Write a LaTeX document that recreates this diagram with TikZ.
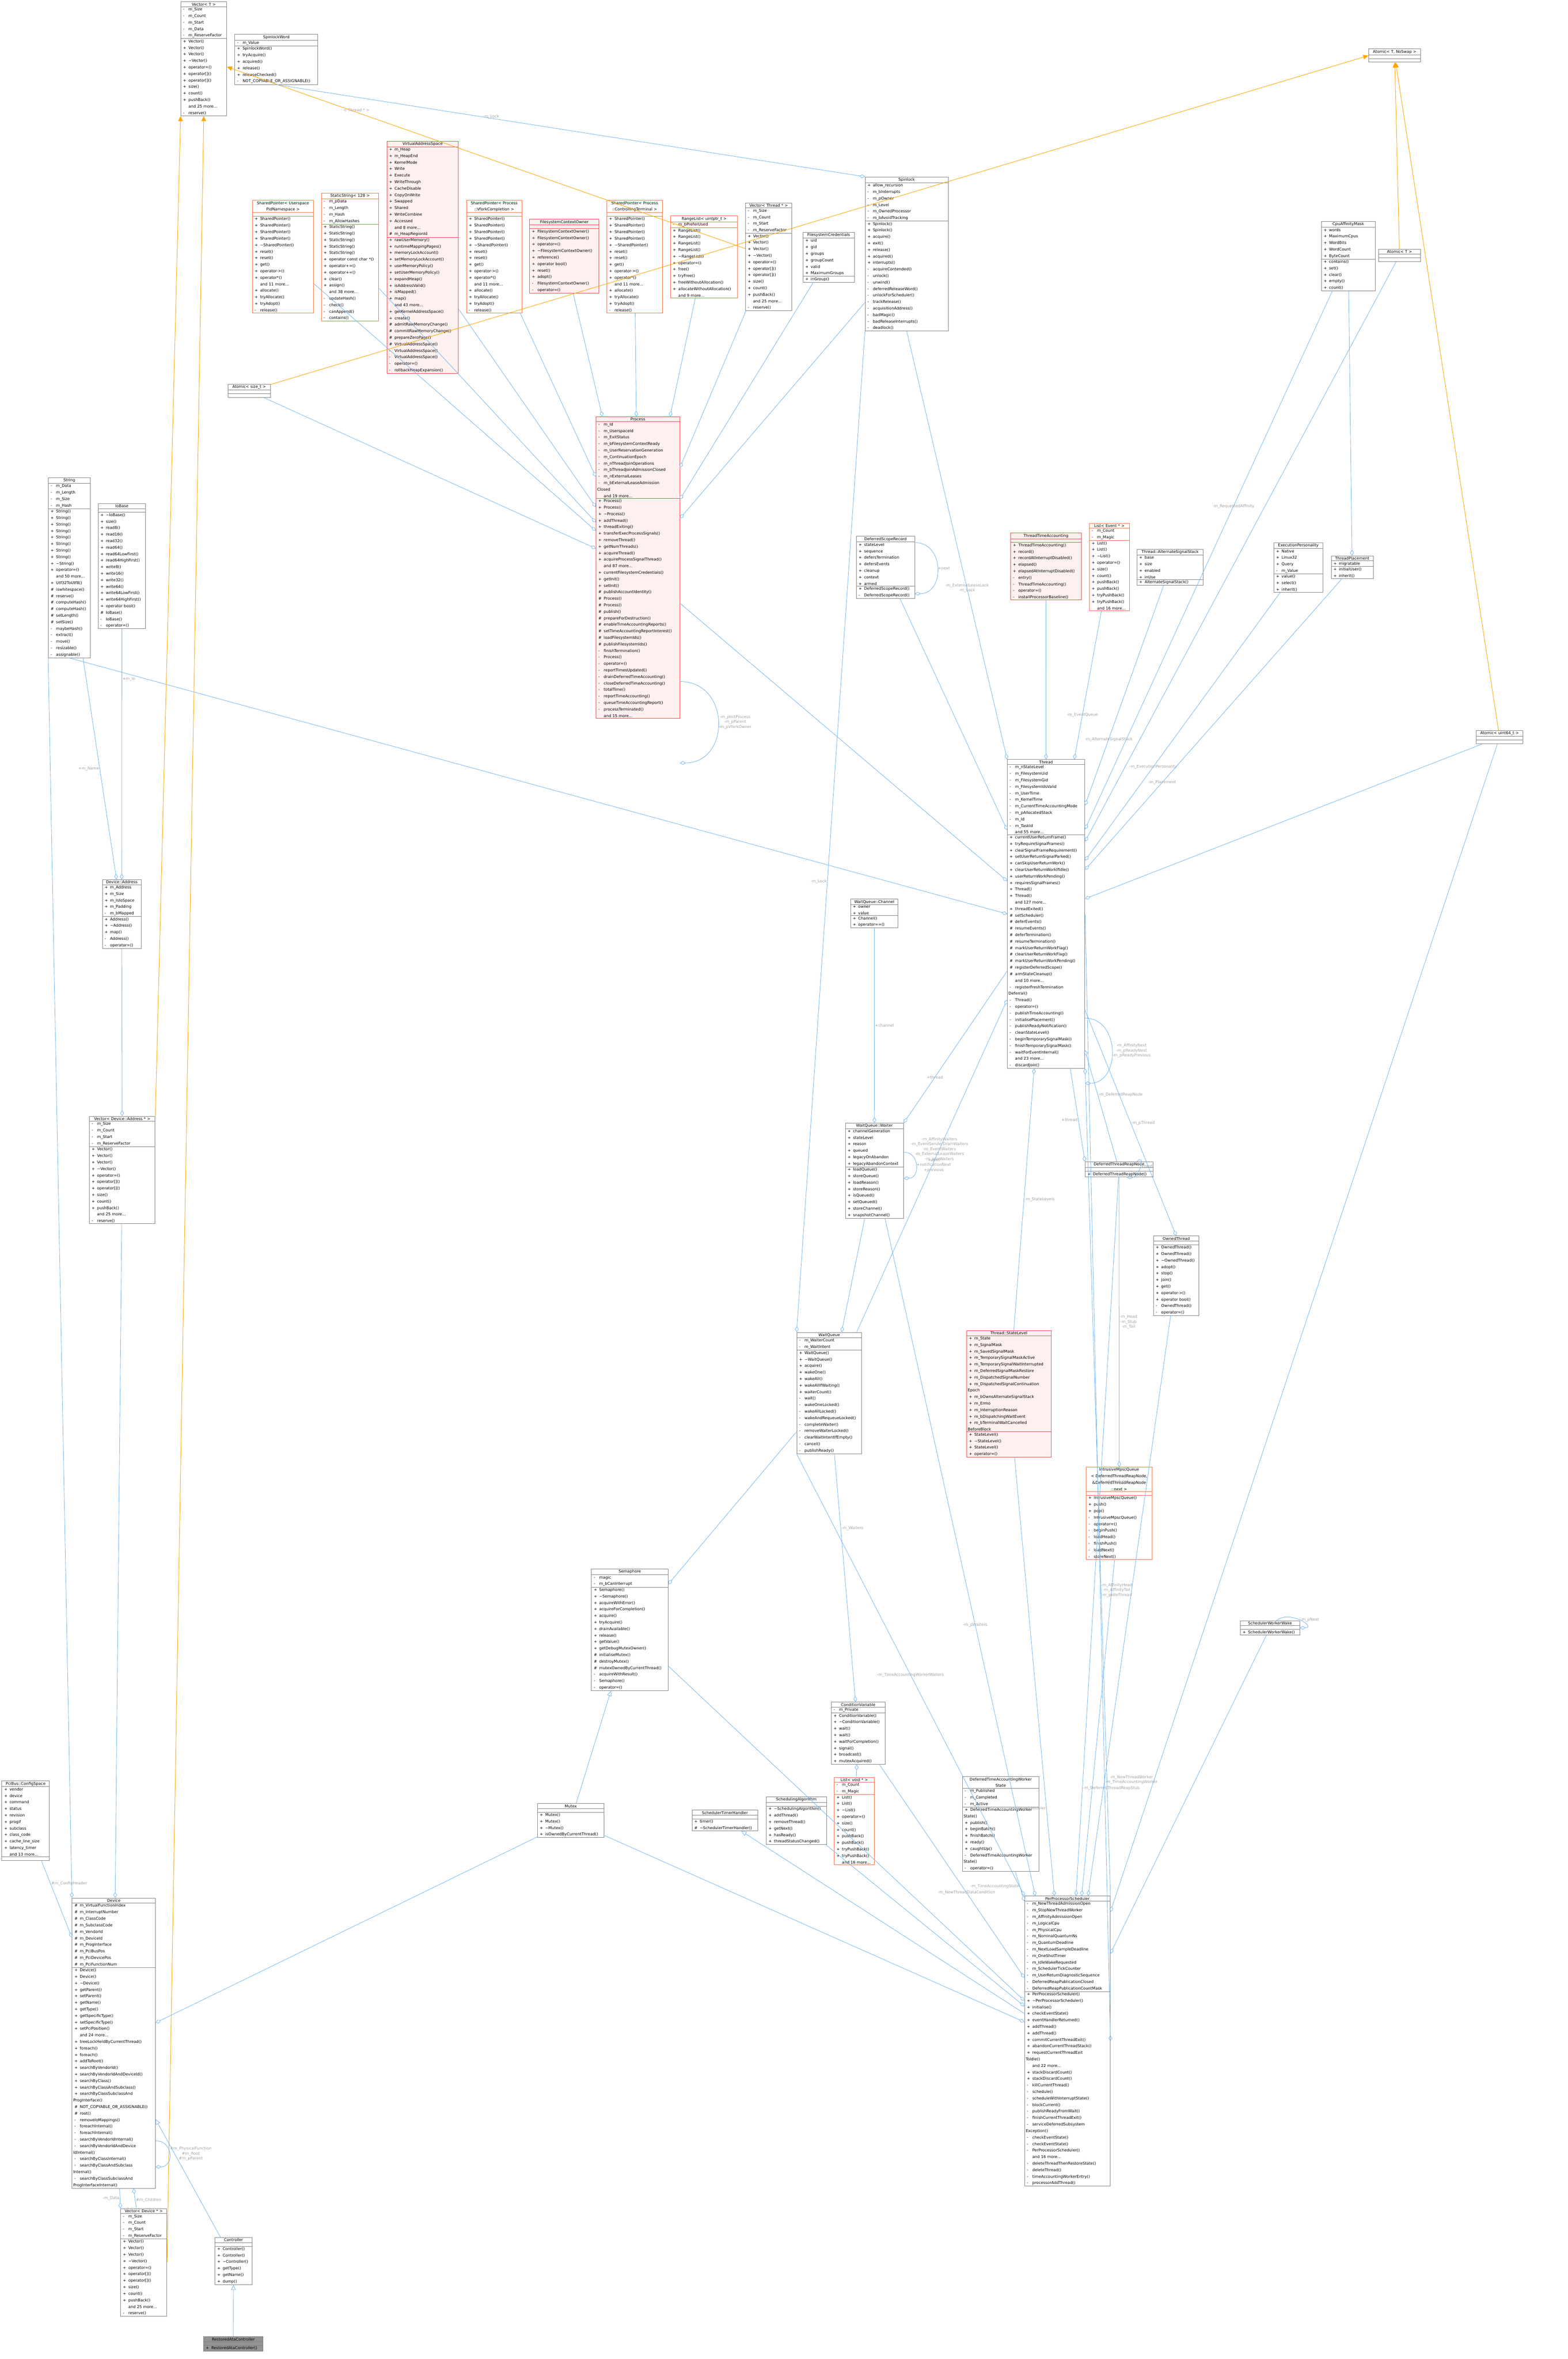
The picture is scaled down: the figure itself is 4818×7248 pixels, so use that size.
\documentclass[tikz,border=0pt]{standalone}
\usepackage{fontspec}
\setmainfont{DejaVu Sans}
\usetikzlibrary{shapes.multipart,arrows.meta}
\definecolor{lblue}{HTML}{6EB4F0}
\definecolor{lorange}{HTML}{FFA500}
\definecolor{lgray}{HTML}{A0A0A0}
\definecolor{bgray}{HTML}{808080}
\definecolor{rborder}{HTML}{FF4040}
\definecolor{rfill}{HTML}{FFF0F0}
\definecolor{oborder}{HTML}{FF6A3D}
\catcode`\_=12
\def\M#1#2{\hangindent1.7em\hangafter1\noindent\makebox[1.7em][l]{\hspace{0.3em}#1}#2\par}
\def\D{\textasciitilde}
\def\E{\rule{0pt}{1.5pt}}
\newcommand\C[8]{\pgfmathsetlengthmacro\tw{#4*0.284528pt-2pt}%
\node[#5, text width=\tw] (#1) at (#2,#3) {\centering #6\par\nodepart{two}#7\nodepart{three}#8};}
\def\VecM{\M+{Vector()}\M+{Vector()}\M+{Vector()}\M+{\D Vector()}\M+{operator=()}\M+{operator[]()}\M+{operator[]()}\M+{size()}\M+{count()}\M+{pushBack()}\M{}{and 25 more...}\M-{reserve()}}
\def\VecA{\M-{m_Size}\M-{m_Count}\M-{m_Start}\M-{m_ReserveFactor}}
\def\SPM{\M+{SharedPointer()}\M+{SharedPointer()}\M+{SharedPointer()}\M+{SharedPointer()}\M+{\D SharedPointer()}\M+{reset()}\M+{reset()}\M+{get()}\M+{operator->()}\M+{operator*()}\M{}{and 11 more...}\M+{allocate()}\M+{tryAllocate()}\M+{tryAdopt()}\M-{release()}}
\def\LA{\M-{m_Count}\M-{m_Magic}}
\def\LM{\M+{List()}\M+{List()}\M+{\D List()}\M+{operator=()}\M+{size()}\M+{count()}\M+{pushBack()}\M+{pushBack()}\M+{tryPushBack()}\M+{tryPushBack()}\M{}{and 16 more...}}
\tikzset{
 base/.style={rectangle split, rectangle split parts=3, rectangle split draw splits=true,
   rectangle split ignore empty parts=false, anchor=north west, align=left,
   inner xsep=1pt, inner ysep=0.7pt, line width=0.35pt,
   font=\fontsize{3.4}{5.69}\selectfont},
 cls/.style={base, draw=bgray, fill=white},
 red/.style={base, draw=rborder, fill=rfill},
 tpl/.style={base, draw=oborder, fill=white},
 dark/.style={base, draw=bgray, fill=bgray!85},
 comp/.style={draw=lblue, line width=0.35pt, -{Diamond[open,length=5pt,width=3.2pt]}},
 inh/.style={draw=lblue, line width=0.35pt, -{Triangle[open,length=4.5pt,width=4pt]}},
 tmpl/.style={draw=lorange, line width=0.4pt, -{Triangle[length=4.5pt,width=4pt,fill=lorange]}},
 lbl/.style={font=\fontsize{3.4}{4.3}\selectfont, text=lgray, align=center, inner sep=0.5pt}
}
\begin{document}
\begin{tikzpicture}[x=0.01cm,y=-0.01cm]
\useasboundingbox[fill=white] (0,0) rectangle (4818,7248);

\C{vect}{555}{5}{141}{cls}{Vector< T >}{\M-{m_Size}\M-{m_Count}\M-{m_Start}\M-{m_Data}\M-{m_ReserveFactor}}{\VecM}
\C{slw}{721}{105}{255}{cls}{SpinlockWord}{\M-{m_Value}}{\M+{SpinlockWord()}\M+{tryAcquire()}\M+{acquired()}\M+{release()}\M+{releaseChecked()}\M-{NOT_COPYABLE_OR_ASSIGNABLE()}}
\C{spupn}{775}{615}{188}{tpl}{SharedPointer< Userspace\\PidNamespace >}{\E}{\SPM}
\C{sstr}{987}{593}{176}{tpl}{StaticString< 128 >}{\M-{m_pData}\M-{m_Length}\M-{m_Hash}\M-{m_AllowHashes}}{\M+{StaticString()}\M+{StaticString()}\M+{StaticString()}\M+{StaticString()}\M+{StaticString()}\M+{operator const char *()}\M+{operator+=()}\M+{operator+=()}\M+{clear()}\M+{assign()}\M{}{and 38 more...}\M-{updateHash()}\M-{check()}\M-{canAppend()}\M-{contains()}}
\C{vas}{1188}{433}{220}{red}{VirtualAddressSpace}{\M+{m_Heap}\M+{m_HeapEnd}\M+{KernelMode}\M+{Write}\M+{Execute}\M+{WriteThrough}\M+{CacheDisable}\M+{CopyOnWrite}\M+{Swapped}\M+{Shared}\M+{WriteCombine}\M+{Accessed}\M{}{and 8 more...}\M\#{m_HeapRegionId}}{\M+{rawUserMemory()}\M+{runtimeMappingPages()}\M+{memoryLockAccount()}\M+{setMemoryLockAccount()}\M+{userMemoryPolicy()}\M+{setUserMemoryPolicy()}\M+{expandHeap()}\M+{isAddressValid()}\M+{isMapped()}\M+{map()}\M{}{and 43 more...}\M+{getKernelAddressSpace()}\M+{create()}\M\#{admitRawMemoryChange()}\M\#{commitRawMemoryChange()}\M\#{prepareZeroPage()}\M\#{VirtualAddressSpace()}\M-{VirtualAddressSpace()}\M-{VirtualAddressSpace()}\M-{operator=()}\M-{rollbackHeapExpansion()}}
\C{spvf}{1433}{615}{170}{tpl}{SharedPointer< Process\\::VforkCompletion >}{\E}{\SPM}
\C{fco}{1627}{673}{213}{red}{FilesystemContextOwner}{\E}{\M+{FilesystemContextOwner()}\M+{FilesystemContextOwner()}\M+{operator=()}\M+{\D FilesystemContextOwner()}\M+{reference()}\M+{operator bool()}\M+{reset()}\M+{adopt()}\M-{FilesystemContextOwner()}\M-{operator=()}}
\C{spct}{1864}{615}{171}{tpl}{SharedPointer< Process\\::ControllingTerminal >}{\E}{\SPM}
\C{rl}{2060}{663}{206}{tpl}{RangeList< uintptr_t >}{\M-{m_bPreferUsed}}{\M+{RangeList()}\M+{RangeList()}\M+{RangeList()}\M+{RangeList()}\M+{\D RangeList()}\M+{operator=()}\M+{free()}\M+{tryFree()}\M+{freeWithoutAllocation()}\M+{allocateWithoutAllocation()}\M{}{and 9 more...}}
\C{vthr}{2290}{623}{143}{cls}{Vector< Thread * >}{\VecA}{\VecM}
\C{fcred}{2467}{713}{158}{cls}{FilesystemCredentials}{\M+{uid}\M+{gid}\M+{groups}\M+{groupCount}\M+{valid}\M+{MaximumGroups}}{\M+{inGroup()}}
\C{spin}{2658}{543}{255}{cls}{Spinlock}{\M+{allow_recursion}\M-{m_bInterrupts}\M-{m_pOwner}\M-{m_Level}\M-{m_OwnedProcessor}\M-{m_bAvoidTracking}}{\M+{Spinlock()}\M+{Spinlock()}\M+{acquire()}\M+{exit()}\M+{release()}\M+{acquired()}\M+{interrupts()}\M-{acquireContended()}\M-{unlock()}\M-{unwind()}\M-{deferredReleaseWord()}\M-{unlockForScheduler()}\M-{trackRelease()}\M-{acquisitionAddress()}\M-{badMagic()}\M-{badReleaseInterrupts()}\M-{deadlock()}}
\C{atns}{4205}{150}{160}{cls}{Atomic< T, NoSwap >}{\E}{\E}
\C{att}{4235}{765}{130}{cls}{Atomic< T >}{\E}{\E}
\C{cpu}{4060}{680}{165}{cls}{CpuAffinityMask}{\M+{words}\M+{MaximumCpus}\M+{WordBits}\M+{WordCount}\M+{ByteCount}}{\M+{contains()}\M+{set()}\M+{clear()}\M+{empty()}\M+{count()}}
\C{atsz}{700}{1180}{130}{cls}{Atomic< size_t >}{\E}{\E}

\C{proc}{1831}{1280}{257}{red}{Process}{\M-{m_Id}\M-{m_UserspaceId}\M-{m_ExitStatus}\M-{m_bFilesystemContextReady}\M-{m_UserReservationGeneration}\M-{m_ContinuationEpoch}\M-{m_nThreadJoinOperations}\M-{m_bThreadJoinAdmissionClosed}\M-{m_nExternalLeases}\M-{m_bExternalLeaseAdmission\\Closed}\M{}{and 19 more...}}{\M+{Process()}\M+{Process()}\M+{\D Process()}\M+{addThread()}\M+{threadExiting()}\M+{transferExecProcessSignals()}\M+{removeThread()}\M+{getNumThreads()}\M+{acquireThread()}\M+{acquireProcessSignalThread()}\M{}{and 87 more...}\M+{currentFilesystemCredentials()}\M+{getInit()}\M+{setInit()}\M\#{publishAccountIdentity()}\M\#{Process()}\M\#{Process()}\M\#{publish()}\M\#{prepareForDestruction()}\M\#{enableTimeAccountingReports()}\M\#{setTimeAccountingReportInterest()}\M\#{loadFilesystemIds()}\M\#{publishFilesystemIds()}\M-{finishTermination()}\M-{Process()}\M-{operator=()}\M-{reportTimesUpdated()}\M-{drainDeferredTimeAccounting()}\M-{closeDeferredTimeAccounting()}\M-{totalTime()}\M-{reportTimeAccounting()}\M-{queueTimeAccountingReport()}\M-{processTerminated()}\M{}{and 15 more...}}

\C{str}{148}{1467}{129}{cls}{String}{\M-{m_Data}\M-{m_Length}\M-{m_Size}\M-{m_Hash}}{\M+{String()}\M+{String()}\M+{String()}\M+{String()}\M+{String()}\M+{String()}\M+{String()}\M+{String()}\M+{\D String()}\M+{operator=()}\M{}{and 50 more...}\M+{Utf32ToUtf8()}\M\#{iswhitespace()}\M\#{reserve()}\M\#{computeHash()}\M\#{computeHash()}\M\#{setLength()}\M\#{setSize()}\M-{maybeHash()}\M-{extract()}\M-{move()}\M-{resizable()}\M-{assignable()}}
\C{iob}{301}{1547}{146}{cls}{IoBase}{\E}{\M+{\D IoBase()}\M+{size()}\M+{read8()}\M+{read16()}\M+{read32()}\M+{read64()}\M+{read64LowFirst()}\M+{read64HighFirst()}\M+{write8()}\M+{write16()}\M+{write32()}\M+{write64()}\M+{write64LowFirst()}\M+{write64HighFirst()}\M+{operator bool()}\M\#{IoBase()}\M-{IoBase()}\M-{operator=()}}
\C{daddr}{314}{2702}{119}{cls}{Device::Address}{\M+{m_Address}\M+{m_Size}\M+{m_IsIoSpace}\M+{m_Padding}\M-{m_bMapped}}{\M+{Address()}\M+{\D Address()}\M+{map()}\M-{Address()}\M-{operator=()}}
\C{vda}{274}{3429}{202}{cls}{Vector< Device::Address * >}{\VecA}{\VecM}

\C{dsr}{2631}{1647}{179}{cls}{DeferredScopeRecord}{\M+{stateLevel}\M+{sequence}\M+{defersTermination}\M+{defersEvents}\M+{cleanup}\M+{context}\M+{armed}}{\M+{DeferredScopeRecord()}\M-{DeferredScopeRecord()}}
\C{tta}{3105}{1637}{217}{red}{ThreadTimeAccounting}{\E}{\M+{ThreadTimeAccounting()}\M+{record()}\M+{recordAtInterruptDisabled()}\M+{elapsed()}\M+{elapsedAtInterruptDisabled()}\M-{entry()}\M-{ThreadTimeAccounting()}\M-{operator=()}\M-{installProcessorBaseline()}}
\C{lev}{3347}{1607}{123}{tpl}{List< Event * >}{\LA}{\LM}
\C{ass}{3493}{1687}{204}{cls}{Thread::AlternateSignalStack}{\M+{base}\M+{size}\M+{enabled}\M+{inUse}}{\M+{AlternateSignalStack()}}
\C{exp}{3914}{1667}{150}{cls}{ExecutionPersonality}{\M+{Native}\M+{Linux32}\M+{Query}\M-{m_Value}}{\M+{value()}\M+{select()}\M+{inherit()}}
\C{tpl}{4090}{1707}{129}{cls}{ThreadPlacement}{\M+{migratable}}{\M+{initialUser()}\M+{inherit()}}
\C{at64}{4536}{2244}{143}{cls}{Atomic< uint64_t >}{\E}{\E}

\C{thr}{3095}{2333}{238}{cls}{Thread}{\M-{m_nStateLevel}\M-{m_FilesystemUid}\M-{m_FilesystemGid}\M-{m_FilesystemIdsValid}\M-{m_UserTime}\M-{m_KernelTime}\M-{m_CurrentTimeAccountingMode}\M-{m_pAllocatedStack}\M-{m_Id}\M-{m_TaskId}\M{}{and 55 more...}}{\M+{currentUserReturnFrame()}\M+{tryRequireSignalFrames()}\M+{clearSignalFrameRequirement()}\M+{setUserReturnSignalParked()}\M+{canSkipUserReturnWork()}\M+{clearUserReturnWorkIfIdle()}\M+{userReturnWorkPending()}\M+{requiresSignalFrames()}\M+{Thread()}\M+{Thread()}\M{}{and 127 more...}\M+{threadExited()}\M\#{setScheduler()}\M\#{deferEvents()}\M\#{resumeEvents()}\M\#{deferTermination()}\M\#{resumeTermination()}\M\#{markUserReturnWorkFlag()}\M\#{clearUserReturnWorkFlag()}\M\#{markUserReturnWorkPending()}\M\#{registerDeferredScope()}\M\#{armStateCleanup()}\M{}{and 10 more...}\M-{registerFreshTermination\\Deferral()}\M-{Thread()}\M-{operator=()}\M-{publishTimeAccounting()}\M-{initialisePlacement()}\M-{publishReadyNotification()}\M-{cleanStateLevel()}\M-{beginTemporarySignalMask()}\M-{finishTemporarySignalMask()}\M-{waitForEventInternal()}\M{}{and 23 more...}\M-{discardJoin()}}
\C{chan}{2613}{2762}{146}{cls}{WaitQueue::Channel}{\M+{owner}\M+{value}}{\M+{Channel()}\M+{operator==()}}
\C{wtr}{2597}{3450}{179}{cls}{WaitQueue::Waiter}{\M+{channelGeneration}\M+{stateLevel}\M+{reason}\M+{queued}\M+{legacyOnAbandon}\M+{legacyAbandonContext}}{\M+{loadQueue()}\M+{storeQueue()}\M+{loadReason()}\M+{storeReason()}\M+{isQueued()}\M+{setQueued()}\M+{storeChannel()}\M+{snapshotChannel()}}
\C{dtrn}{3334}{3569}{208}{cls}{DeferredThreadReapNode}{\E}{\M+{DeferredThreadReapNode()}}
\C{own}{3544}{3797}{140}{cls}{OwnedThread}{\E}{\M+{OwnedThread()}\M+{OwnedThread()}\M+{\D OwnedThread()}\M+{adopt()}\M+{stop()}\M+{join()}\M+{get()}\M+{operator->()}\M+{operator bool()}\M-{OwnedThread()}\M-{operator=()}}
\C{wq}{2448}{4093}{199}{cls}{WaitQueue}{\M-{m_WaiterCount}\M-{m_WaitIntent}}{\M+{WaitQueue()}\M+{\D WaitQueue()}\M+{acquire()}\M+{wakeOne()}\M+{wakeAll()}\M+{wakeAllIfWaiting()}\M+{waiterCount()}\M-{wait()}\M-{wakeOneLocked()}\M-{wakeAllLocked()}\M-{wakeAndRequeueLocked()}\M-{completeWaiter()}\M-{removeWaiterLocked()}\M-{clearWaitIntentIfEmpty()}\M-{cancel()}\M-{publishReady()}}
\C{stl}{2970}{4088}{259}{red}{Thread::StateLevel}{\M+{m_State}\M+{m_SignalMask}\M+{m_SavedSignalMask}\M+{m_TemporarySignalMaskActive}\M+{m_TemporarySignalWaitInterrupted}\M+{m_DeferredSignalMaskRestore}\M+{m_DispatchedSignalNumber}\M+{m_DispatchedSignalContinuation\\Epoch}\M+{m_bOwnsAlternateSignalStack}\M+{m_Errno}\M+{m_InterruptionReason}\M+{m_bDispatchingWaitEvent}\M+{m_bTerminalWaitCancelled\\BeforeBlock}}{\M+{StateLevel()}\M+{\D StateLevel()}\M+{StateLevel()}\M+{operator=()}}
\C{imq}{3337}{4507}{203}{tpl}{IntrusiveMpscQueue\\< DeferredThreadReapNode,\\ \&DeferredThreadReapNode\\::next >}{\E}{\M+{IntrusiveMpscQueue()}\M+{push()}\M+{pop()}\M-{IntrusiveMpscQueue()}\M-{operator=()}\M-{beginPush()}\M-{loadHead()}\M-{finishPush()}\M-{loadNext()}\M-{storeNext()}}

\C{sem}{1817}{4820}{235}{cls}{Semaphore}{\M-{magic}\M-{m_bCanInterrupt}}{\M+{Semaphore()}\M+{\D Semaphore()}\M+{acquireWithError()}\M+{acquireForCompletion()}\M+{acquire()}\M+{tryAcquire()}\M+{drainAvailable()}\M+{release()}\M+{getValue()}\M+{getDebugMutexOwner()}\M\#{initialiseMutex()}\M\#{destroyMutex()}\M\#{mutexOwnedByCurrentThread()}\M-{acquireWithResult()}\M-{Semaphore()}\M-{operator=()}}
\C{sww}{3811}{4979}{182}{cls}{SchedulerWorkerWake}{\E}{\M+{SchedulerWorkerWake()}}
\C{cv}{2554}{5229}{165}{cls}{ConditionVariable}{\M-{m_Private}}{\M+{ConditionVariable()}\M+{\D ConditionVariable()}\M+{wait()}\M+{wait()}\M+{waitForCompletion()}\M+{signal()}\M+{broadcast()}\M+{mutexAcquired()}}
\C{mtx}{1651}{5541}{205}{cls}{Mutex}{\E}{\M+{Mutex()}\M+{Mutex()}\M+{\D Mutex()}\M+{isOwnedByCurrentThread()}}
\C{sth}{2126}{5561}{202}{cls}{SchedulerTimerHandler}{\E}{\M+{timer()}\M\#{\D SchedulerTimerHandler()}}
\C{salg}{2354}{5520}{185}{cls}{SchedulingAlgorithm}{\E}{\M+{\D SchedulingAlgorithm()}\M+{addThread()}\M+{removeThread()}\M+{getNext()}\M+{hasReady()}\M+{threadStatusChanged()}}
\C{lvoid}{2563}{5460}{123}{tpl}{List< void * >}{\LA}{\LM}
\C{dtaws}{2957}{5458}{235}{cls}{DeferredTimeAccountingWorker\\State}{\M-{m_Published}\M-{m_Completed}\M-{m_Active}}{\M+{DeferredTimeAccountingWorker\\State()}\M+{publish()}\M+{beginBatch()}\M+{finishBatch()}\M+{ready()}\M+{caughtUp()}\M-{DeferredTimeAccountingWorker\\State()}\M-{operator=()}}
\C{pps}{3148}{5825}{263}{cls}{PerProcessorScheduler}{\M-{m_NewThreadAdmissionOpen}\M-{m_StopNewThreadWorker}\M-{m_AffinityAdmissionOpen}\M-{m_LogicalCpu}\M-{m_PhysicalCpu}\M-{m_NominalQuantumNs}\M-{m_QuantumDeadline}\M-{m_NextLoadSampleDeadline}\M-{m_OneShotTimer}\M-{m_IdleWakeRequested}\M-{m_SchedulerTickCounter}\M-{m_UserReturnDiagnosticSequence}\M-{DeferredReapPublicationClosed}\M-{DeferredReapPublicationCountMask}}{\M+{PerProcessorScheduler()}\M+{\D PerProcessorScheduler()}\M+{initialise()}\M+{checkEventState()}\M+{eventHandlerReturned()}\M+{addThread()}\M+{addThread()}\M+{commitCurrentThreadExit()}\M+{abandonCurrentThreadStack()}\M+{requestCurrentThreadExit\\ToIdle()}\M{}{and 22 more...}\M+{stackDiscardCount()}\M+{stackDiscardCount()}\M-{killCurrentThread()}\M-{schedule()}\M-{scheduleWithInterruptState()}\M-{blockCurrent()}\M-{publishReadyFromWait()}\M-{finishCurrentThreadExit()}\M-{serviceDeferredSubsystem\\Exception()}\M-{checkEventState()}\M-{checkEventState()}\M-{PerProcessorScheduler()}\M{}{and 16 more...}\M-{deleteThreadThenRestoreState()}\M-{deleteThread()}\M-{timeAccountingWorkerEntry()}\M-{processorAddThread()}}

\C{pcs}{5}{5471}{146}{cls}{PciBus::ConfigSpace}{\M+{vendor}\M+{device}\M+{command}\M+{status}\M+{revision}\M+{progif}\M+{subclass}\M+{class_code}\M+{cache_line_size}\M+{latency_timer}\M{}{and 13 more...}}{\E}
\C{dev}{221}{5831}{256}{cls}{Device}{\M\#{m_VirtualFunctionIndex}\M\#{m_InterruptNumber}\M\#{m_ClassCode}\M\#{m_SubclassCode}\M\#{m_VendorId}\M\#{m_DeviceId}\M\#{m_ProgInterface}\M\#{m_PciBusPos}\M\#{m_PciDevicePos}\M\#{m_PciFunctionNum}}{\M+{Device()}\M+{Device()}\M+{\D Device()}\M+{getParent()}\M+{setParent()}\M+{getName()}\M+{getType()}\M+{getSpecificType()}\M+{setSpecificType()}\M+{setPciPosition()}\M{}{and 24 more...}\M+{treeLockHeldByCurrentThread()}\M+{foreach()}\M+{foreach()}\M+{addToRoot()}\M+{searchByVendorId()}\M+{searchByVendorIdAndDeviceId()}\M+{searchByClass()}\M+{searchByClassAndSubclass()}\M+{searchByClassSubclassAnd\\ProgInterface()}\M\#{NOT_COPYABLE_OR_ASSIGNABLE()}\M\#{root()}\M-{removeIoMappings()}\M-{foreachInternal()}\M-{foreachInternal()}\M-{searchByVendorIdInternal()}\M-{searchByVendorIdAndDevice\\IdInternal()}\M-{searchByClassInternal()}\M-{searchByClassAndSubclass\\Internal()}\M-{searchByClassSubclassAnd\\ProgInterfaceInternal()}}
\C{vdev}{370}{6785}{142}{cls}{Vector< Device * >}{\VecA}{\VecM}
\C{ctl}{660}{6874}{114}{cls}{Controller}{\E}{\M+{Controller()}\M+{Controller()}\M+{\D Controller()}\M+{getType()}\M+{getName()}\M+{dump()}}
\C{rac}{625}{7179}{183}{dark}{RestoredAtaController}{\E}{\M+{RestoredAtaController()}}

% template instantiations
\draw[tmpl] (vthr) -- node[lbl,pos=0.75,above]{< Thread * >} (vect);
\draw[tmpl] (vda.north east) -- (vect.south west);
\draw[tmpl] (vdev.east) -- (vect.south);
\draw[tmpl] (att) -- (atns);
\draw[tmpl] (at64) -- (atns);
\draw[tmpl] (atsz) -- (atns.west);

% compositions (part -> container)
\draw[comp] (slw.south) -- node[lbl,pos=0.35,right]{-m_Lock} (spin.north west);
\draw[comp] (spupn) -- (proc);
\draw[comp] (sstr) -- (proc);
\draw[comp] (vas) -- (proc);
\draw[comp] (spvf) -- (proc);
\draw[comp] (fco) -- (proc);
\draw[comp] (spct) -- (proc);
\draw[comp] (rl) -- (proc);
\draw[comp] (vthr) -- (proc);
\draw[comp] (fcred) -- (proc);
\draw[comp] (spin) -- (proc);
\draw[comp] (atsz) -- (proc);
\draw[comp] ([yshift=-3.5cm]proc.east) to[out=0,in=0,looseness=1.6] node[lbl,right]{-m_pInitProcess\\-m_pParent\\-m_pVforkOwner} ([yshift=-6cm]proc.east);
\draw[comp] (proc) -- (thr);
\draw[comp] (spin.south) -- node[lbl,pos=0.6]{-m_ExternalLeaseLock\\-m_Lock} (thr.north west);
\draw[comp] (dsr) -- (thr);
\draw[comp] ([yshift=-0.2cm]dsr.north east) to[out=0,in=0,looseness=1.5] node[lbl,right]{+next} ([yshift=0.15cm]dsr.south east);
\draw[comp] (tta) -- (thr);
\draw[comp] (lev) -- node[lbl,pos=0.7]{-m_EventQueue} (thr);
\draw[comp] (ass) -- node[lbl,pos=0.7]{-m_AlternateSignalStack} (thr);
\draw[comp] (exp) -- node[lbl,pos=0.65]{-m_ExecutionPersonality} (thr);
\draw[comp] (tpl) -- node[lbl,pos=0.7]{-m_Placement} (thr);
\draw[comp] (cpu) -- (tpl);
\draw[comp] (cpu) -- node[lbl,pos=0.4]{-m_RequestedAffinity} (thr);
\draw[comp] (at64) -- (thr);
\draw[comp] (att) -- (thr);
\draw[comp] (str.south) -- (thr.west);
\draw[comp] ([yshift=-3.2cm]thr.east) to[out=0,in=0,looseness=1.4] node[lbl,right]{-m_AffinityNext\\-m_pReadyNext\\-m_pReadyPrevious} ([yshift=-5.2cm]thr.east);
\draw[comp] (chan) -- node[lbl,right]{+channel} (wtr);
\draw[comp] (thr) -- node[lbl,pos=0.7]{+thread} (wtr.north east);
\draw[comp] ([yshift=-0.9cm]wtr.north east) to[out=0,in=0,looseness=1.6] node[lbl,right]{+next\\+notificationNext\\+previous} ([yshift=-1.7cm]wtr.north east);
\draw[comp] (wq) -- node[lbl,pos=0.55]{-m_AffinityWaiters\\-m_EventSenderDrainWaiters\\-m_EventWaiters\\-m_ExternalLeaseWaiters\\-m_JoinWaiters} (thr);
\draw[comp] (stl) -- node[lbl,pos=0.5,right]{-m_StateLevels} (thr);
\draw[comp] (thr) -- node[lbl,pos=0.55,left]{+thread} (dtrn.north west);
\draw[comp] (dtrn) -- node[lbl,pos=0.6,right]{-m_DeferredReapNode} (thr);
\draw[comp] (thr) -- node[lbl,pos=0.5,right]{-m_pThread} (own.north);
\draw[comp] ([xshift=-0.5cm]dtrn.north east) to[out=45,in=0,looseness=1.8] node[lbl,right]{+next} ([xshift=-0.8cm]dtrn.south east);
\draw[comp] (dtrn) -- node[lbl,right]{-m_Head\\-m_Stub\\-m_Tail} (imq);
\draw[comp] (spin.south west) -- node[lbl,pos=0.55,left]{-m_Lock} (wq.north west);
\draw[comp] (wtr) -- (wq);
\draw[comp] (wq) -- (sem);
\draw[comp] (wq) -- node[lbl,pos=0.3,right]{-m_Waiters} (cv);
\draw[comp] (wq.south west) -- node[lbl,pos=0.5]{-m_TimeAccountingWorkerWaiters} (pps.north west);
\draw[comp] (wtr) -- node[lbl,pos=0.6]{-m_pWaiters} (pps);
\draw[comp] (stl) -- node[lbl,pos=0.8,left]{+scheduler} (pps);
\draw[comp] (imq) -- (pps);
\draw[comp] (dtrn) -- node[lbl,pos=0.85,right]{-m_DeferredThreadReapStub} (pps);
\draw[comp] (own) -- node[lbl,pos=0.8,right]{-m_NewThreadWorker\\-m_TimeAccountingWorker} (pps);
\draw[comp] (pps.north east) -- node[lbl,pos=0.5,right]{-m_pScheduler} (thr.south east);
\draw[comp] (thr.east) -- node[lbl,pos=0.6,right]{-m_AffinityHead\\-m_AffinityTail\\-m_pIdleThread} (pps.east);
\draw[comp] (sww) -- (pps);
\draw[comp] ([xshift=0.2cm]sww.north) to[out=40,in=0,looseness=1.8] node[lbl,right]{-m_pNext} (sww.east);
\draw[comp] (cv) -- node[lbl,pos=0.6]{-m_NewThreadDataCondition} (pps);
\draw[comp] (lvoid) -- (cv);
\draw[comp] (salg) -- (pps);
\draw[comp] (dtaws) -- node[lbl,pos=0.5,left]{-m_TimeAccountingState} (pps);
\draw[comp] (sem) -- (pps);
\draw[comp] (mtx) -- (pps);
\draw[comp] (at64) -- (pps);
\draw[inh] (pps) -- (sth);
\draw[inh] (mtx) -- (sem);
\draw[comp] (mtx) -- (dev);

% device cluster
\draw[comp] (str) -- node[lbl,pos=0.5,left]{+m_Name} (daddr);
\draw[comp] (iob) -- node[lbl,pos=0.2,right]{+m_Io} (daddr);
\draw[comp] (daddr) -- (vda);
\draw[comp] (vda) -- (dev);
\draw[comp] (str.south west) -- (dev.north west);
\draw[comp] (pcs) -- node[lbl,pos=0.3,right]{\#m_ConfigHeader} (dev);
\draw[comp] ([yshift=-3cm]dev.east) to[out=0,in=0,looseness=1.8] node[lbl,right]{\#m_PhysicalFunction\\\#m_Root\\\#m_pParent} ([yshift=-3.8cm]dev.east);
\draw[comp] (dev) -- node[lbl,pos=0.5,left]{-m_Data} (vdev.north west);
\draw[comp] (vdev) -- node[lbl,pos=0.4,right]{\#m_Children} (dev);
\draw[inh] (ctl) -- (dev);
\draw[inh] (rac) -- (ctl);
\end{tikzpicture}
\end{document}
